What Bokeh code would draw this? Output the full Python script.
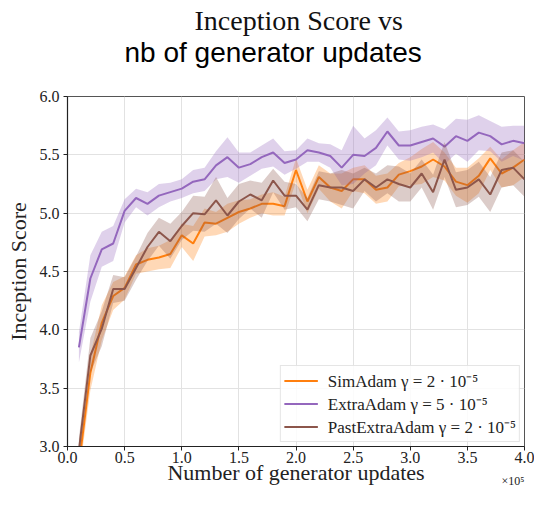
from bokeh.plotting import figure
from bokeh.models import Range1d, FixedTicker, PrintfTickFormatter, Title, Legend, LegendItem
from bokeh.embed import file_html
from bokeh.resources import INLINE

# number of generator updates, in units of 1e5
updates = [0.1, 0.2, 0.3, 0.4, 0.5, 0.6, 0.7, 0.8, 0.9, 1.0,
           1.1, 1.2, 1.3, 1.4, 1.5, 1.6, 1.7, 1.8, 1.9, 2.0,
           2.1, 2.2, 2.3, 2.4, 2.5, 2.6, 2.7, 2.8, 2.9, 3.0,
           3.1, 3.2, 3.3, 3.4, 3.5, 3.6, 3.7, 3.8, 3.9, 4.0]

sim_adam = [2.84, 3.63, 4.06, 4.29, 4.36, 4.56, 4.60, 4.62, 4.65, 4.81,
            4.74, 4.92, 4.91, 4.96, 5.01, 5.04, 5.08, 5.08, 5.06, 5.37,
            5.10, 5.31, 5.22, 5.19, 5.29, 5.29, 5.20, 5.22, 5.33, 5.36,
            5.40, 5.46, 5.40, 5.27, 5.24, 5.32, 5.47, 5.34, 5.39, 5.46]
sim_adam_spread = [0.10, 0.15, 0.15, 0.12, 0.10, 0.08, 0.10, 0.10, 0.12, 0.10,
                   0.15, 0.12, 0.10, 0.12, 0.10, 0.08, 0.08, 0.10, 0.08, 0.10,
                   0.10, 0.10, 0.12, 0.15, 0.10, 0.12, 0.12, 0.12, 0.10, 0.12,
                   0.15, 0.15, 0.12, 0.12, 0.15, 0.15, 0.10, 0.12, 0.15, 0.15]

extra_adam = [3.85, 4.44, 4.69, 4.74, 5.02, 5.13, 5.08, 5.15, 5.18, 5.21,
              5.27, 5.29, 5.41, 5.48, 5.39, 5.42, 5.48, 5.52, 5.43, 5.46,
              5.54, 5.52, 5.49, 5.39, 5.50, 5.49, 5.56, 5.70, 5.58, 5.58,
              5.61, 5.64, 5.57, 5.66, 5.62, 5.69, 5.66, 5.59, 5.62, 5.60]
extra_adam_spread = [0.13, 0.20, 0.15, 0.15, 0.10, 0.08, 0.10, 0.10, 0.08, 0.08,
                     0.10, 0.10, 0.12, 0.17, 0.13, 0.10, 0.10, 0.12, 0.10, 0.08,
                     0.10, 0.08, 0.10, 0.15, 0.25, 0.15, 0.15, 0.12, 0.12, 0.13,
                     0.13, 0.12, 0.15, 0.15, 0.18, 0.15, 0.13, 0.15, 0.13, 0.15]

past_extra_adam = [2.97, 3.78, 4.01, 4.35, 4.35, 4.53, 4.71, 4.84, 4.76, 4.89,
                   5.00, 4.99, 5.11, 4.98, 5.10, 5.16, 5.11, 5.28, 5.15, 5.15,
                   5.03, 5.24, 5.22, 5.22, 5.19, 5.29, 5.22, 5.29, 5.25, 5.22,
                   5.34, 5.18, 5.46, 5.20, 5.22, 5.29, 5.16, 5.37, 5.39, 5.29]
past_extra_adam_spread = [0.10, 0.15, 0.15, 0.12, 0.10, 0.10, 0.12, 0.12, 0.15, 0.12,
                          0.15, 0.15, 0.20, 0.15, 0.15, 0.12, 0.15, 0.10, 0.12, 0.10,
                          0.10, 0.12, 0.12, 0.15, 0.15, 0.10, 0.12, 0.12, 0.15, 0.12,
                          0.12, 0.15, 0.15, 0.15, 0.15, 0.15, 0.15, 0.15, 0.15, 0.15]

series_labels = ["SimAdam \u03b3 = 2 \u00b7 10\u207b\u2075",
                 "ExtraAdam \u03b3 = 5 \u00b7 10\u207b\u2075",
                 "PastExtraAdam \u03b3 = 2 \u00b7 10\u207b\u2075"]
series_colors = ["#ff7f0e", "#9467bd", "#8c564b"]

xticks = [0.0, 0.5, 1.0, 1.5, 2.0, 2.5, 3.0, 3.5, 4.0]
yticks = [3.0, 3.5, 4.0, 4.5, 5.0, 5.5, 6.0]

title_line1 = "Inception Score vs"
title_line2 = "nb of generator updates"
x_label = "Number of generator updates"
y_label = "Inception Score"
x_multiplier = "\u00d710\u2075"

SERIF = "Liberation Serif"
SANS = "Liberation Sans"

p = figure(width=534, height=490, output_backend="svg", toolbar_location=None,
           x_range=Range1d(0, 4), y_range=Range1d(3, 6),
           min_border_left=67, min_border_right=10, min_border_top=96,
           min_border_bottom=44, background_fill_color="white",
           border_fill_color="white")

p.outline_line_color = "#555555"
p.outline_line_width = 1

items = []
series = [(sim_adam, sim_adam_spread), (extra_adam, extra_adam_spread),
          (past_extra_adam, past_extra_adam_spread)]
for (vals, spread), color, lab in zip(series, series_colors, series_labels):
    lower = [v - s for v, s in zip(vals, spread)]
    upper = [v + s for v, s in zip(vals, spread)]
    p.varea(x=updates, y1=lower, y2=upper, fill_color=color, fill_alpha=0.3)
    r = p.line(x=updates, y=vals, line_color=color, line_width=2)
    items.append(LegendItem(label=lab, renderers=[r]))

legend = Legend(items=items, location="bottom_right", margin=4, padding=3,
                spacing=0, glyph_width=34, glyph_height=19, label_height=19,
                label_standoff=10, label_text_font=SERIF,
                label_text_font_size="17px", label_text_color="#222222",
                border_line_color="#cccccc", border_line_width=1,
                background_fill_color="white", background_fill_alpha=0.85)
p.add_layout(legend, "center")

for ax in (p.xaxis, p.yaxis):
    ax.axis_line_color = "#222222"
    ax.axis_line_width = 1.2
    ax.major_tick_line_color = "#222222"
    ax.major_tick_in = 0
    ax.major_tick_out = 4
    ax.minor_tick_line_color = None
    ax.major_label_text_font = SERIF
    ax.major_label_text_font_size = "16px"
    ax.major_label_text_color = "#222222"
    ax.axis_label_text_font = SERIF
    ax.axis_label_text_font_size = "22px"
    ax.axis_label_text_font_style = "normal"
    ax.axis_label_text_color = "#222222"
    ax.formatter = PrintfTickFormatter(format="%.1f")

p.xaxis.ticker = FixedTicker(ticks=xticks)
p.yaxis.ticker = FixedTicker(ticks=yticks)
p.xaxis.axis_label = x_label
p.yaxis.axis_label = y_label
p.xaxis.major_label_standoff = 1
p.yaxis.major_label_standoff = 4
p.xaxis.axis_label_standoff = -6
p.yaxis.axis_label_standoff = 6

p.xgrid.ticker = FixedTicker(ticks=xticks)
p.ygrid.ticker = FixedTicker(ticks=yticks)
p.grid.grid_line_color = "#e2e2e2"
p.grid.grid_line_width = 1

# multiplier under the right end of the x axis
p.add_layout(Title(text=x_multiplier, text_font=SERIF, text_font_size="12px",
                   text_font_style="normal", text_color="#222222",
                   align="right", vertical_align="top", offset=0,
                   standoff=-27), "below")

# two-line title: the first one added sits closest to the frame
p.add_layout(Title(text=title_line2, text_font=SANS, text_font_size="28px",
                   text_font_style="normal", text_color="#000000",
                   align="left", vertical_align="bottom", offset=57,
                   standoff=57), "above")
p.add_layout(Title(text=title_line1, text_font=SERIF, text_font_size="28px",
                   text_font_style="normal", text_color="#111111",
                   align="left", vertical_align="bottom", offset=127,
                   standoff=-59), "above")

open("out.html", "w").write(file_html(p, INLINE))
